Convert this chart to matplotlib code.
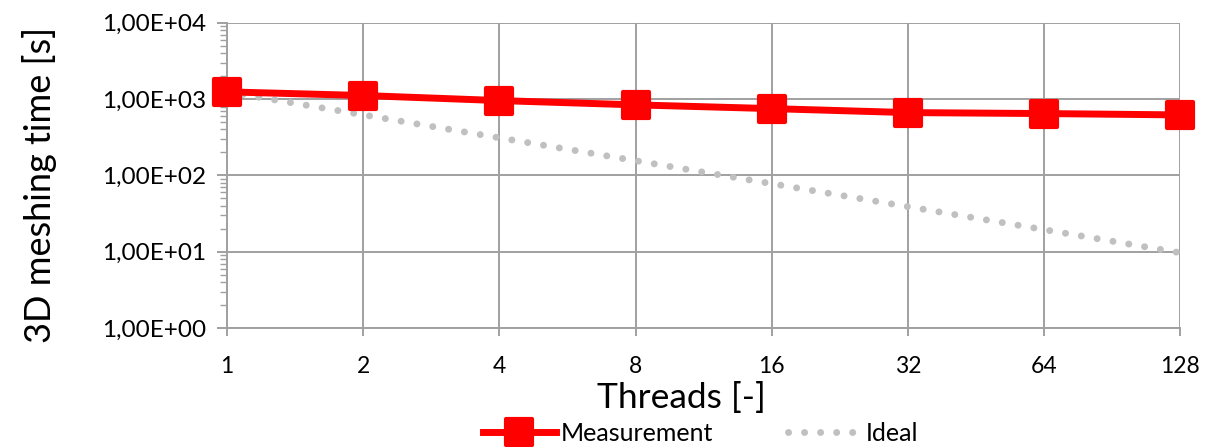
import matplotlib
matplotlib.use('Agg')
import matplotlib.pyplot as plt
import matplotlib.ticker as plticker
from matplotlib.markers import MarkerStyle

plt.rcParams['font.family'] = ['Lato', 'DejaVu Sans']

threads = [1, 2, 4, 8, 16, 32, 64, 128]
measurement = [1245, 1115, 957, 841, 751, 666, 647, 621]
ideal = [1245, 622, 311, 156, 78, 39, 19.5, 9.7]


def sci_comma(v, pos):
    s = '%.2E' % v
    return s.replace('.', ',')


fig = plt.figure(figsize=(12.08, 4.47), dpi=100)
ax = fig.add_axes([0.188, 0.266, 0.789, 0.683])

ax.set_xscale('log', base=2)
ax.set_yscale('log')
ax.set_xlim(1, 128)
ax.set_ylim(1, 1e4)

sq = MarkerStyle('s', joinstyle='round')
ax.plot(threads, ideal, color='#C0C0C0', linewidth=5, linestyle=(0, (0.01, 2.3)),
        dash_capstyle='round', label='Ideal', zorder=3)
ax.plot(threads, measurement, color='#FF0000', linewidth=5, marker=sq, markersize=19,
        markeredgewidth=3, markeredgecolor='#FF0000', label='Measurement', clip_on=False, zorder=4)

ax.xaxis.set_major_locator(plticker.FixedLocator(threads))
ax.xaxis.set_major_formatter(plticker.FixedFormatter([str(t) for t in threads]))
ax.xaxis.set_minor_locator(plticker.NullLocator())
ax.yaxis.set_major_locator(plticker.LogLocator(base=10, numticks=10))
ax.yaxis.set_major_formatter(plticker.FuncFormatter(sci_comma))
ax.yaxis.set_minor_locator(plticker.LogLocator(base=10, subs=range(2, 10), numticks=20))

ax.grid(True, which='major', color='#A0A0A0', linewidth=1.4)
for side in ['top', 'right']:
    ax.spines[side].set_visible(False)
for side in ['left', 'bottom']:
    ax.spines[side].set_color('#A0A0A0')
    ax.spines[side].set_linewidth(1.4)
ax.tick_params(axis='y', which='major', length=7, width=1.4, color='#A0A0A0', labelsize=17.5, pad=8)
ax.tick_params(axis='y', which='minor', length=5, width=1.0, color='#A0A0A0')
ax.tick_params(axis='x', which='major', length=6, width=1.4, color='#A0A0A0', labelsize=16.5, pad=14)

ax.set_xlabel('Threads [-]', fontsize=25.5)
ax.xaxis.set_label_coords(0.477, -0.175)
ax.set_ylabel('3D meshing time [s]', fontsize=26)
ax.yaxis.set_label_coords(-0.178, 0.47)

handles, labels = ax.get_legend_handles_labels()
fig.legend(handles[::-1], labels[::-1], loc='lower center', ncol=2, frameon=False,
           fontsize=18, bbox_to_anchor=(0.58, -0.045), handlelength=2.9, columnspacing=3.0,
           handletextpad=0.2)

fig.savefig('out.png', dpi=100)
